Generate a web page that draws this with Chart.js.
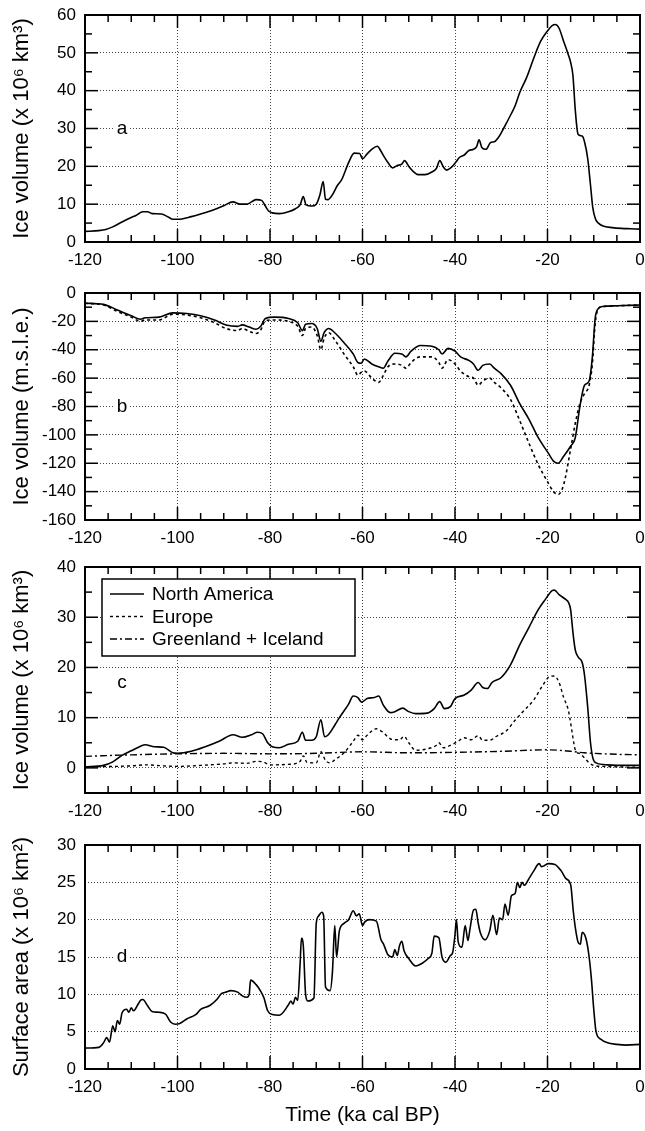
<!DOCTYPE html>
<html>
<head>
<meta charset="utf-8">
<script src="https://cdn.jsdelivr.net/npm/chart.js@4/dist/chart.umd.min.js"></script>
<style>
  html, body { margin: 0; padding: 0; background: #fff; }
  #wrap { position: relative; width: 645px; height: 1131px; overflow: hidden; }
  canvas { position: absolute; left: 0; }
</style>
</head>
<body>
<div id="wrap">
  <canvas id="ca" width="645" height="275" style="top:0px"></canvas>
  <canvas id="cb" width="645" height="275" style="top:275px"></canvas>
  <canvas id="cc" width="645" height="275" style="top:550px"></canvas>
  <canvas id="cd" width="645" height="306" style="top:825px"></canvas>
</div>
<script>
// ---------------- DATA ----------------
const xTicks = [-120, -100, -80, -60, -40, -20, 0];

// Panel a: total ice volume (x10^6 km^3)
const timeA = [-120,-117,-115.5,-114,-112,-110,-109,-107.5,-106.5,-105.5,-103.5,-102,-101,-100,-97,-95,-92,-90,-88,-86.5,-85,-84,-83,-81.8,-81,-80.3,-79.5,-78,-76,-74.5,-73.5,-72.8,-72.2,-71,-70,-69.2,-68.5,-68,-67.5,-66.5,-65.5,-64.5,-63,-61.8,-60.6,-60,-59,-58,-56.8,-56,-55.3,-54.5,-53.5,-52.5,-51.5,-50.9,-50,-49,-48,-46.5,-45,-44,-43.3,-42.5,-41.8,-41,-40,-39,-38,-37,-36,-35.3,-34.8,-34.2,-33.3,-32.3,-31.5,-30.5,-29.5,-28,-27,-26,-24.5,-23,-21.5,-20,-19,-18.3,-17.5,-16.5,-15.5,-15,-14.5,-14,-13.4,-12.5,-12,-11.3,-10.7,-10.2,-9.6,-9,-8,-6,-4,-2,0];
const volA  = [2.8,3.0,3.3,4.0,5.3,6.5,7.0,8.0,8.0,7.5,7.4,6.6,6.0,6.0,6.7,7.4,8.6,9.6,10.6,10.0,10.0,10.6,11.2,11.0,9.5,8.2,7.7,7.5,8.0,8.8,9.8,12.0,9.8,9.5,10.0,12.5,16.0,11.3,11.2,12.5,14.8,16.5,21.0,23.5,23.4,22.0,23.3,24.5,25.3,24.0,22.5,21.0,19.6,20.2,20.6,21.5,20.0,18.6,17.8,17.8,18.5,19.5,21.5,19.8,19.0,19.5,20.8,22.4,23.0,24.2,24.5,25.3,27.0,25.0,24.5,26.3,26.5,27.8,30.0,33.5,36.0,39.5,43.5,48.5,53.0,55.8,57.2,57.5,56.5,53.0,49.5,47.5,44.0,35.0,28.5,28.0,26.5,22.0,15.0,9.0,6.0,5.0,4.2,3.8,3.6,3.5,3.4];

// Panel b: ice volume in sea-level equivalent (m)
const timeB = [-120,-116,-113,-110,-108,-107,-104,-101,-98,-95,-92,-89.5,-87,-86,-84.5,-83,-82,-81,-79,-76,-74,-73,-72.3,-71,-69.8,-69,-68.3,-67.3,-66,-64,-62,-61,-60.3,-59.6,-58,-56.5,-55.5,-54.5,-53,-51.5,-50.6,-49.5,-47.5,-45,-43.5,-42.8,-41.5,-40,-38.8,-37,-36,-35,-34,-32.5,-31.5,-30,-28,-26,-24,-22,-20,-18.7,-17.7,-16.5,-15,-14,-13,-12,-11,-10.3,-9.7,-9,-8,-5,0];
const slSolidB  = [-7.2,-8,-12,-16,-18.5,-17.5,-17,-14,-14.5,-16,-19,-22.5,-23.5,-22.5,-24,-25.5,-23.5,-18,-17,-18,-21,-26.5,-22,-21.5,-25,-34,-28,-25,-28,-35,-43,-49,-49.5,-46.5,-50,-52,-53,-48,-42.5,-43,-45,-41,-37,-37.5,-40,-43,-39,-41,-45,-47.5,-50,-54.5,-51,-50,-53,-57,-65,-78,-89,-102,-112,-118.5,-120,-115,-108,-102,-80,-65,-62,-45,-18,-11,-9.5,-9,-8.5];
const slDashedB = [-7.2,-8.5,-13,-17,-20,-19,-19,-15,-15.5,-17.5,-21,-25,-26.5,-25,-27,-28.5,-26,-19.5,-19,-20,-23.5,-30,-25,-24,-30,-40,-32,-28,-33,-43,-52,-58,-56,-55,-60,-63,-58,-52,-50,-51,-53,-49,-45,-45,-49,-53,-47,-50,-55,-59,-60,-65,-62,-60,-63,-67,-75,-90,-106,-121,-133,-140,-142,-135,-110,-92,-78,-71,-65,-50,-22,-11,-9.5,-9,-8.5];

// Panel c: ice volume per region (x10^6 km^3)
const timeNA = [-120,-116,-114,-112,-110,-108,-107,-105,-103,-101,-100,-97,-94,-91,-88,-86,-84,-82.7,-81.6,-80.5,-79.5,-78,-76,-74,-73,-72.3,-71,-70,-69,-68.2,-67.5,-66,-65,-63,-62,-61,-60.2,-59,-57.5,-56.5,-55.5,-54,-53,-51.3,-50,-48.5,-46,-44.5,-43.3,-42.3,-41,-40,-38,-36.5,-35,-34,-33,-32,-30,-28,-26,-24,-22,-20.5,-19,-18.5,-17.5,-16,-15.5,-15,-14.5,-14,-13.3,-12.5,-12,-11.3,-10.7,-10.2,-9.5,-7,-3,0];
const volNA  = [0.2,0.5,1.2,2.5,3.4,4.3,4.6,4.2,4.1,3.0,2.9,3.3,4.2,5.3,6.6,6.1,6.6,7.1,6.8,5.0,4.2,4.0,4.7,5.3,7.1,5.5,5.5,6.2,9.6,6.2,6.5,8.5,10.0,12.7,14.3,14.0,13.1,13.8,14.0,14.3,12.5,11.0,11.2,11.9,11.2,10.8,10.9,11.8,13.2,11.8,12.2,13.8,14.5,15.5,17.0,16.0,15.8,17.0,18.0,20.5,24.5,28.0,31.5,33.5,35.3,35.4,34.5,33.5,33.0,31.5,27.0,23.5,22.0,21.0,18.5,12.0,5.0,2.0,1.0,0.6,0.5,0.5];
const timeEU = [-120,-110,-107,-103,-100,-95,-90,-88,-85,-83,-81.5,-80,-76,-73.5,-72.8,-72,-70,-69,-68,-67,-66,-64,-62,-61,-60,-59,-57,-55.5,-54,-53,-52,-51,-50,-48.5,-46,-44,-43.5,-42.5,-41,-39.5,-38,-36.5,-35,-34,-32.5,-31,-29,-27,-25,-23,-21,-19.5,-18.5,-17.5,-16.5,-15.5,-15,-14.5,-14,-13,-12,-11,-10,-8,-5,0];
const volEU  = [0.2,0.4,0.6,0.4,0.3,0.5,0.8,1.0,0.9,1.3,1.2,0.6,0.7,1.3,2.4,1.1,1.0,3.2,1.5,1.0,1.6,3.0,5.3,6.5,5.6,6.5,7.8,7.0,5.8,5.6,5.6,6.3,5.0,3.5,3.8,4.5,5.0,4.0,4.5,5.2,6.0,5.6,6.4,5.5,5.5,6.3,7.3,9.5,11.5,13.5,16.5,18.2,18.3,17.0,14.0,11.5,9.0,6.0,3.6,2.8,2.0,1.0,0.5,0.3,0.2,0.1];
const timeGI = [-120,-110,-100,-90,-80,-70,-60,-50,-40,-30,-20,-15,-12,-10,-5,0];
const volGI  = [2.3,2.6,2.8,2.9,2.8,2.9,3.2,3.0,3.1,3.3,3.6,3.3,3.0,2.9,2.7,2.6];
const legendLabels = ['North America', 'Europe', 'Greenland + Iceland'];

// Panel d: ice surface area (x10^6 km^2)
const timeD = [-120,-117,-116,-115.3,-114.7,-114,-113.5,-113,-112.5,-112,-111,-110.5,-110,-109.5,-108.5,-108,-107.5,-106.5,-105.5,-104,-102.5,-101.5,-100.5,-99.5,-98,-96,-95,-93,-91.5,-90.5,-89.5,-88.5,-87,-86,-85,-84.5,-84.2,-83,-82,-81.3,-80.5,-79.5,-78,-76,-75.5,-75,-74.5,-74,-73.5,-73.2,-72.8,-72.3,-71.8,-70.5,-70,-69.5,-68.8,-68.4,-68,-67,-66.5,-66,-65.6,-65,-64,-63,-62,-61.3,-60.7,-60,-59.5,-58.5,-57,-56,-55.5,-54.5,-53.5,-53,-52.5,-52,-51.5,-51,-50,-48.5,-47,-45.8,-45,-44.5,-43.5,-42.8,-42,-41,-40.5,-40,-39.7,-39.3,-38.5,-37.8,-37.2,-36.8,-36,-35.5,-35,-34.5,-33.5,-32.5,-31.8,-31,-30.4,-29.7,-29.2,-28.5,-27.8,-27,-26.5,-26,-25.5,-25,-24,-23,-21.8,-21.3,-20.8,-19.8,-18.4,-17,-16,-15,-14.4,-14,-13.4,-12.9,-12.5,-11.7,-11,-10.5,-10,-9.5,-8.5,-7,-5,-3,0];
const areaD = [2.8,2.9,3.5,4.2,3.6,5.8,5.0,6.5,6.0,7.5,8.0,7.6,8.2,7.8,8.7,9.2,9.3,8.5,7.7,7.6,7.3,6.3,6.0,6.1,6.7,7.3,8.0,8.5,9.3,10.1,10.3,10.5,10.3,9.8,9.6,10.0,11.9,11.3,10.4,9.5,7.8,7.3,7.2,8.6,9.1,8.7,9.6,9.2,14.0,17.5,16.5,10.0,9.1,9.5,19.5,20.5,21.0,20.5,11.0,10.5,13.0,19.2,15.0,18.5,19.5,20.0,21.2,20.5,20.8,19.2,19.7,20.0,19.8,17.3,16.8,15.3,15.0,16.0,15.2,16.5,17.1,15.8,14.8,13.8,14.2,14.8,15.5,17.8,17.6,15.0,14.3,15.2,15.6,18.0,20.0,17.0,16.3,19.2,17.2,18.6,21.3,21.4,19.6,18.2,17.3,18.5,20.6,18.0,20.2,20.0,22.1,20.6,23.2,23.5,25.0,24.3,25.0,24.6,25.5,26.5,27.5,27.1,27.2,27.5,27.4,26.5,25.5,24.7,21.0,19.0,17.0,16.7,18.3,17.5,15.0,12.0,8.0,5.0,4.0,3.5,3.3,3.2,3.3];

// ---------------- RENDERING ----------------
const FONT = "'Liberation Sans', Arial, Helvetica, sans-serif";
const pts = (xs, ys) => xs.map((x, i) => ({ x: x, y: ys[i] }));

const framePlugin = {
  id: 'frameTicks',
  afterDatasetsDraw(chart, args, o) {
    const { ctx, chartArea: { left, right, top, bottom } } = chart;
    const xs = chart.scales.x, ys = chart.scales.y;
    ctx.save();
    ctx.strokeStyle = '#000';
    ctx.lineWidth = 1.5;
    const seg = (x1, y1, x2, y2) => { ctx.beginPath(); ctx.moveTo(x1, y1); ctx.lineTo(x2, y2); ctx.stroke(); };
    const isMul = (v, m) => Math.abs(v / m - Math.round(v / m)) < 1e-6;
    for (let v = xs.min; v <= xs.max + 1e-9; v += o.xMinor) {
      const p = xs.getPixelForValue(v);
      const L = isMul(v, o.xMajor) ? 13 : 7;
      seg(p, bottom, p, bottom - L); seg(p, top, p, top + L);
    }
    if (o.yMinor) {
      for (let v = ys.min; v <= ys.max + 1e-9; v += o.yMinor) {
        const p = ys.getPixelForValue(v);
        const L = isMul(v, o.yMajor) ? 13 : 7;
        seg(left, p, left + L, p); seg(right, p, right - L, p);
      }
    }
    ctx.lineWidth = 2;
    ctx.strokeRect(left, top, right - left, bottom - top);

    // panel letter
    ctx.font = '19px ' + FONT;
    ctx.textAlign = 'center'; ctx.textBaseline = 'middle';
    const lx = xs.getPixelForValue(o.letterX), ly = ys.getPixelForValue(o.letterY);
    const w = ctx.measureText(o.letter).width;
    ctx.fillStyle = '#fff';
    ctx.fillRect(lx - w / 2 - 2, ly - 8, w + 4, 16);
    ctx.fillStyle = '#000';
    ctx.fillText(o.letter, lx, ly);

    // legend (panel c)
    if (o.legend) {
      const bx = left + 17, by = top + 12, bw = 253, bh = 77;
      ctx.fillStyle = '#fff';
      ctx.fillRect(bx, by, bw, bh);
      ctx.lineWidth = 1.5; ctx.strokeStyle = '#000';
      ctx.strokeRect(bx, by, bw, bh);
      ctx.font = '19px ' + FONT;
      ctx.textAlign = 'left'; ctx.textBaseline = 'middle';
      chart.data.datasets.forEach((ds, i) => {
        const yy = by + 15 + i * 22.5;
        ctx.save();
        ctx.lineWidth = ds.borderWidth; ctx.strokeStyle = '#000';
        ctx.setLineDash(ds.borderDash || []);
        seg(bx + 8, yy, bx + 42, yy);
        ctx.restore();
        ctx.fillStyle = '#000';
        ctx.fillText(ds.label, bx + 50, yy + 1);
      });
    }
    ctx.restore();
  }
};

function makeChart(id, datasets, cfg) {
  return new Chart(document.getElementById(id), {
    type: 'line',
    data: { datasets: datasets },
    plugins: [framePlugin],
    options: {
      responsive: false,
      animation: false,
      events: [],
      layout: { padding: { top: cfg.padTop, right: 5, left: 0, bottom: 0 } },
      elements: {
        point: { radius: 0 },
        line: { borderColor: '#000', borderWidth: 1.6, fill: false, cubicInterpolationMode: 'monotone' }
      },
      plugins: {
        legend: { display: false },
        tooltip: { enabled: false },
        frameTicks: cfg.frame
      },
      scales: {
        x: {
          type: 'linear', min: -120, max: 0,
          afterBuildTicks: (s) => { s.ticks = xTicks.map(v => ({ value: v })); },
          afterFit: (s) => { s.height = cfg.xHeight; s.paddingLeft = 0; s.paddingRight = 0; },
          grid: { color: '#444', lineWidth: 1, drawTicks: false },
          border: { display: false, dash: [1, 2] },
          ticks: { color: '#000', font: { family: FONT, size: 17 }, padding: 8, maxRotation: 0, autoSkip: false },
          title: cfg.xTitle ? { display: true, text: cfg.xTitle, color: '#000', font: { family: FONT, size: 21 }, padding: { top: 0, bottom: 3 } } : { display: false }
        },
        y: {
          type: 'linear', min: cfg.yMin, max: cfg.yMax,
          afterBuildTicks: (s) => { s.ticks = cfg.yTicks.map(v => ({ value: v })); },
          afterFit: (s) => { s.width = 85; s.paddingTop = 0; s.paddingBottom = 0; },
          grid: { color: '#444', lineWidth: 1, drawTicks: false },
          border: { display: false, dash: [1, 2] },
          ticks: { color: '#000', font: { family: FONT, size: 17 }, padding: 9, autoSkip: false },
          title: { display: true, text: cfg.yTitle, color: '#000', font: { family: FONT, size: 22 }, padding: { top: 9, bottom: 0 } }
        }
      }
    }
  });
}

makeChart('ca', [
  { label: 'Total', data: pts(timeA, volA) }
], {
  padTop: 15, xHeight: 33, yMin: 0, yMax: 60, yTicks: [0, 10, 20, 30, 40, 50, 60],
  yTitle: 'Ice volume (x 10\u2076 km\u00B3)',
  frame: { xMinor: 5, xMajor: 20, yMinor: 5, yMajor: 10, letter: 'a', letterX: -112, letterY: 30 }
});

makeChart('cb', [
  { label: 'Solid', data: pts(timeB, slSolidB) },
  { label: 'Dashed', data: pts(timeB, slDashedB), borderDash: [3, 3] }
], {
  padTop: 18, xHeight: 30, yMin: -160, yMax: 0, yTicks: [-160, -140, -120, -100, -80, -60, -40, -20, 0],
  yTitle: 'Ice volume (m.s.l.e.)',
  frame: { xMinor: 5, xMajor: 20, yMinor: 10, yMajor: 20, letter: 'b', letterX: -112, letterY: -80 }
});

makeChart('cc', [
  { label: legendLabels[0], data: pts(timeNA, volNA), borderWidth: 1.6 },
  { label: legendLabels[1], data: pts(timeEU, volEU), borderWidth: 1.4, borderDash: [3, 3] },
  { label: legendLabels[2], data: pts(timeGI, volGI), borderWidth: 1.4, borderDash: [7, 3, 2, 3] }
], {
  padTop: 17, xHeight: 32, yMin: -5, yMax: 40, yTicks: [0, 10, 20, 30, 40],
  yTitle: 'Ice volume (x 10\u2076 km\u00B3)',
  frame: { xMinor: 5, xMajor: 20, yMinor: 5, yMajor: 10, letter: 'c', letterX: -112, letterY: 17, legend: true }
});

makeChart('cd', [
  { label: 'Area', data: pts(timeD, areaD) }
], {
  padTop: 20, xHeight: 62, yMin: 0, yMax: 30, yTicks: [0, 5, 10, 15, 20, 25, 30],
  yTitle: 'Surface area (x 10\u2076 km\u00B2)', xTitle: 'Time (ka cal BP)',
  frame: { xMinor: 5, xMajor: 20, yMinor: 0, yMajor: 5, letter: 'd', letterX: -112, letterY: 15 }
});
</script>
</body>
</html>
